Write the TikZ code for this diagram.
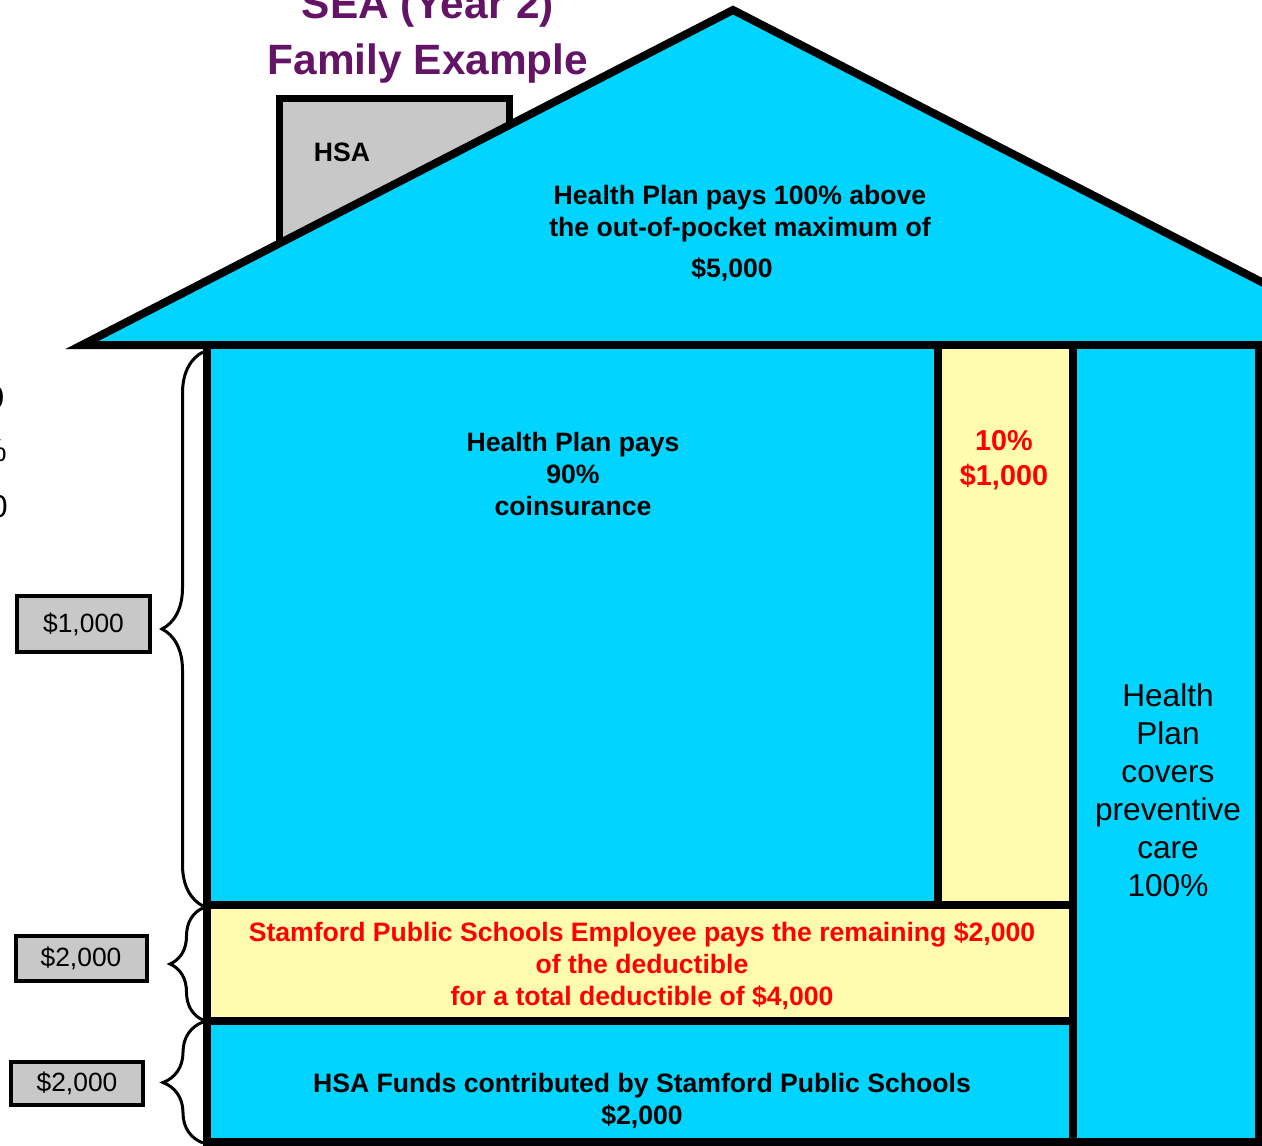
\documentclass[tikz,border=0pt]{standalone}
\usepackage{fontspec}
\setmainfont{Liberation Sans}
\usetikzlibrary{decorations.pathreplacing}
\definecolor{sky}{HTML}{00D4FF}
\definecolor{cream}{HTML}{FFFBAF}
\definecolor{chim}{HTML}{C8C8C8}
\definecolor{plum}{HTML}{641466}
\definecolor{alert}{HTML}{FF0000}
\begin{document}
\begin{tikzpicture}[x=0.5pt,y=-0.5pt,
  wall/.style={line width=4pt, line join=miter},
  boldtext/.style={font=\fontsize{13.3}{16}\selectfont\bfseries, align=center, inner sep=0pt},
  redtext/.style={boldtext, text=alert},
  bigtext/.style={font=\fontsize{15.8}{19}\selectfont, align=center, inner sep=0pt},
  titletext/.style={font=\fontsize{21.2}{25}\selectfont\bfseries, text=plum, inner sep=0pt, anchor=base},
  amount/.style={draw, line width=2pt, fill=chim, font=\fontsize{13.2}{16}\selectfont, inner sep=0pt},
  curly/.style={decorate, decoration={brace, amplitude=#1}, line width=1.5pt}
]
\useasboundingbox (0,0) rectangle (1262,1145);
\clip (0,0) rectangle (1262,1145);

% chimney
\draw[line width=3.5pt, fill=chim, line join=miter] (279,330) -- (279,99) -- (509,99) -- (509,330);
% roof
\draw[wall, fill=sky] (82,345) -- (733,10) -- (1384,345) -- cycle;
% house panels
\draw[wall, fill=sky] (207,345) rectangle (938,905);
\draw[wall, fill=cream] (938,345) rectangle (1073,905);
\draw[wall, fill=sky] (1073,345) rectangle (1259,1142);
\draw[wall, fill=cream] (207,905) rectangle (1073,1021);
\draw[wall, fill=sky] (207,1021) rectangle (1073,1142);

% titles
\node[titletext] (title1) at (428,19) {SEA (Year 2)};
\node[titletext] (title2) at (428,75) {Family Example};

% texts
\node[boldtext] (hsa) at (342,152) {HSA};
\node[boldtext] (roof) at (740,214) {Health Plan pays 100\% above\\the out-of-pocket maximum of};
\node[boldtext] (oop) at (732,270) {\$5,000};
\node[boldtext] (coins) at (573,474) {Health Plan pays\\90\%\\coinsurance};
\node[redtext, font=\fontsize{14.4}{17.5}\selectfont\bfseries] (ten) at (1004,460) {10\%\\\$1,000};
\node[bigtext] (prev) at (1168,790) {Health\\Plan\\covers\\preventive\\care\\100\%};
\node[redtext] (employee) at (642,966) {Stamford Public Schools Employee pays the remaining \$2,000\\of the deductible\\for a total deductible of \$4,000};
\node[boldtext] (funds) at (642,1101) {HSA Funds contributed by Stamford Public Schools\\\$2,000};

% cut-off text at the left edge
\node[bigtext, anchor=east] (cut1) at (4.5,398) {0};
\node[bigtext, anchor=east] (cut2) at (7,451) {\%};
\node[bigtext, anchor=east] (cut3) at (8,507) {0};

% amount labels
\node[amount, minimum width=66.5pt, minimum height=28pt] (a1) at (83.5,624) {\$1,000};
\node[amount, minimum width=65.5pt, minimum height=22.5pt] (a2) at (81,958) {\$2,000};
\node[amount, minimum width=66pt, minimum height=21.5pt] (a3) at (77,1083) {\$2,000};

% braces
\coordinate (b1top) at (203,352);
\coordinate (b1bot) at (203,906);
\coordinate (b2top) at (203,908);
\coordinate (b2bot) at (203,1020);
\coordinate (b3top) at (203,1022);
\coordinate (b3bot) at (203,1143);
\draw[curly=20.5pt] (b1bot) -- (b1top);
\draw[curly=16.5pt] (b2bot) -- (b2top);
\draw[curly=20pt] (b3bot) -- (b3top);
\end{tikzpicture}
\end{document}
